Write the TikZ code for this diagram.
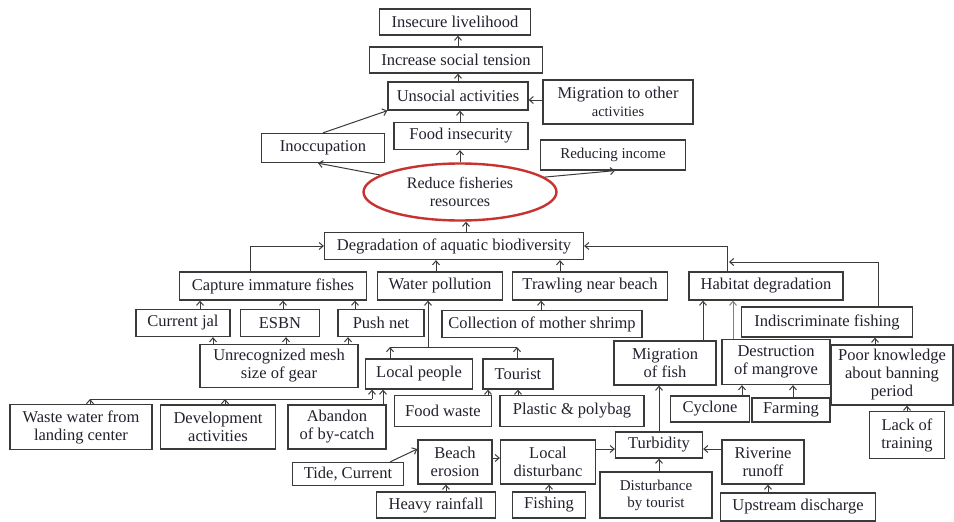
\documentclass[tikz,border=0pt]{standalone}
\usepackage{fontspec}
\setmainfont{Liberation Serif}
\usetikzlibrary{arrows.meta,shapes.geometric}
\definecolor{linec}{HTML}{3A3A3A}
\definecolor{txtc}{HTML}{22222E}
\definecolor{ellc}{HTML}{C8322F}
\begin{document}
\begin{tikzpicture}[x=1pt,y=-1pt,
 box/.style={draw=linec,line width=1.3pt,fill=white,align=center,inner sep=1pt,text=txtc,font=\fontsize{16.5}{18}\selectfont},
 arr/.style={draw=linec,line width=1pt,-{Straight Barb[length=4pt,width=7pt]}},
 ln/.style={draw=linec,line width=1pt}]
\useasboundingbox[fill=white] (0,0) rectangle (954,522);
% top chain
\node[box,minimum width=151pt,minimum height=26pt] (il) at (455,22) {Insecure livelihood};
\node[box,minimum width=173pt,minimum height=26pt] (ist) at (456,60) {Increase social tension};
\node[box,minimum width=140pt,minimum height=28pt] (ua) at (458,96) {Unsocial activities};
\node[box,minimum width=150pt,minimum height=44pt] (mo) at (618,102) {Migration to other\\{\fontsize{14.5}{15}\selectfont activities}};
\node[box,minimum width=134pt,minimum height=27pt] (fi) at (461,136) {Food insecurity};
\node[box,minimum width=123pt,minimum height=29pt] (ino) at (323,148) {Inoccupation};
\node[box,minimum width=145pt,minimum height=30pt,font=\fontsize{15}{16}\selectfont] (ri) at (613,155) {Reducing income};
\node[ellipse,draw=ellc,line width=2.4pt,fill=white,text=txtc,align=center,inner sep=0pt,minimum width=193pt,minimum height=57pt,font=\fontsize{16}{18}\selectfont] (rf) at (460,192) {Reduce fisheries\\resources};
\node[box,minimum width=259pt,minimum height=27pt] (da) at (454,246) {Degradation of aquatic biodiversity};
% second level
\node[box,minimum width=187pt,minimum height=28pt] (ci) at (273,286) {Capture immature fishes};
\node[box,minimum width=125pt,minimum height=28pt] (wp) at (440,286) {Water pollution};
\node[box,minimum width=155pt,minimum height=28pt] (tn) at (590,286) {Trawling near beach};
\node[box,minimum width=154pt,minimum height=28pt] (hd) at (766,286) {Habitat degradation};
% third level
\node[box,minimum width=94pt,minimum height=27pt] (cj) at (183,323) {Current jal};
\node[box,minimum width=79pt,minimum height=27pt] (es) at (280,323) {ESBN};
\node[box,minimum width=86pt,minimum height=27pt] (pn) at (381,323) {Push net};
\node[box,minimum width=200pt,minimum height=27pt] (cm) at (542,324) {Collection of mother shrimp};
\node[box,minimum width=171pt,minimum height=30pt] (if) at (827,322) {Indiscriminate fishing};
% fourth level
\node[box,minimum width=158pt,minimum height=43pt] (um) at (279,366) {Unrecognized mesh\\size of gear};
\node[box,minimum width=107pt,minimum height=30pt] (lp) at (419,374) {Local people};
\node[box,minimum width=70pt,minimum height=30pt] (to) at (518,374) {Tourist};
\node[box,minimum width=102pt,minimum height=44pt] (mf) at (665,363) {Migration\\of fish};
\node[box,minimum width=108pt,minimum height=45pt] (dm) at (776,362) {Destruction\\of mangrove};
\node[box,minimum width=122pt,minimum height=60pt] (pk) at (892,375) {Poor knowledge\\about banning\\period};
% fifth level
\node[box,minimum width=142pt,minimum height=45pt] (ww) at (81,427) {Waste water from\\landing center};
\node[box,minimum width=115pt,minimum height=44pt] (dv) at (218,427) {Development\\activities};
\node[box,minimum width=98pt,minimum height=44pt] (ab) at (337,427) {Abandon\\of by-catch};
\node[box,minimum width=97pt,minimum height=31pt] (fw) at (443,411) {Food waste};
\node[box,minimum width=144pt,minimum height=31pt] (pp) at (572,411) {Plastic \& polybag};
\node[box,minimum width=79pt,minimum height=26pt] (cy) at (710,409) {Cyclone};
\node[box,minimum width=78pt,minimum height=24pt] (fa) at (791,410) {Farming};
\node[box,minimum width=75pt,minimum height=47pt] (lt) at (907,435) {Lack of\\training};
% bottom
\node[box,minimum width=111pt,minimum height=23pt] (tc) at (348,474) {Tide, Current};
\node[box,minimum width=74pt,minimum height=44pt] (be) at (455,462) {Beach\\erosion};
\node[box,minimum width=95pt,minimum height=44pt] (ld) at (548,462) {Local\\disturbanc};
\node[box,minimum width=87pt,minimum height=26pt] (tu) at (659,445) {Turbidity};
\node[box,minimum width=82pt,minimum height=44pt] (rr) at (763,462) {Riverine\\runoff};
\node[box,minimum width=119pt,minimum height=26pt] (hr) at (436,505) {Heavy rainfall};
\node[box,minimum width=73pt,minimum height=26pt] (fs) at (549,505) {Fishing};
\node[box,minimum width=112pt,minimum height=46pt,font=\fontsize{15}{17}\selectfont] (dt) at (656,495) {Disturbance\\by tourist};
\node[box,minimum width=155pt,minimum height=28pt] (ud) at (798,507) {Upstream discharge};
% connectors top
\draw[arr] (ist.north -| 458,0) -- (il.south -| 458,0);
\draw[arr] (ua.north -| 458,0) -- (ist.south -| 458,0);
\draw[arr] (fi.north -| 460,0) -- (ua.south -| 460,0);
\draw[arr] (mo.west |- 0,100) -- (ua.east |- 0,100);
\draw[arr] (ino.north -| 323,0) -- (ua.south west);
\draw[arr] (rf.north -| 460,0) -- (fi.south -| 460,0);
\draw[arr] (rf.168) -- (ino.south -| 318,0);
\draw[arr] (rf.10) -- (ri.south -| 615,0);
\draw[arr] (da.north -| 466,0) -- (rf.south -| 466,0);
% second level to degradation
\draw[arr] (ci.north -| 250,0) |- (da.west);
\draw[arr] (wp.north -| 436,0) -- (da.south -| 436,0);
\draw[arr] (tn.north -| 560,0) -- (da.south -| 560,0);
\draw[arr] (hd.north -| 727,0) |- (da.east);
\draw[arr] (if.north -| 878,0) |- (729,262);
% third to second
\draw[arr] (cj.north -| 200,0) -- (ci.south -| 200,0);
\draw[arr] (es.north -| 283,0) -- (ci.south -| 283,0);
\draw[arr] (pn.north -| 355,0) -- (ci.south -| 355,0);
\draw[arr] (cm.north -| 541,0) -- (tn.south -| 541,0);
% water pollution bus
\coordinate (wb) at (428,347);
\draw[ln] (390,347) -- (517,347);
\draw[arr] (wb) -- (wp.south -| wb);
\draw[arr] (lp.north -| 390,0) -- (390,347);
\draw[arr] (to.north -| 517,0) -- (517,347);
% mesh to gears
\draw[arr] (um.north -| 213,0) -- (cj.south -| 213,0);
\draw[arr] (um.north -| 286,0) -- (es.south -| 286,0);
\draw[arr] (um.north -| 348,0) -- (pn.south -| 348,0);
% local people sources
\coordinate (lb) at (372,399);
\draw[ln] (90,399) -- (lb);
\draw[arr] (ww.north -| 90,0) -- (90,399);
\draw[arr] (dv.north -| 225,0) -- (225,399);
\draw[arr] (lb) -- (lp.south -| lb);
\draw[arr] (ab.north -| 383,0) -- (lp.south -| 383,0);
% tourist sources
\draw[arr] (fw.north -| 488,0) -- (to.south -| 488,0);
\draw[arr] (pp.north -| 518,0) -- (to.south -| 518,0);
% habitat
\draw[arr] (mf.north -| 703,0) -- (hd.south -| 703,0);
\draw[arr,draw=gray] (dm.north -| 733,0) -- (hd.south -| 733,0);
\draw[arr] (cy.north -| 742,0) -- (dm.south -| 742,0);
\draw[arr] (fa.north -| 793,0) -- (dm.south -| 793,0);
\draw[arr] (pk.north -| 875,0) -- (if.south -| 875,0);
\draw[arr] (lt.north -| 907,0) -- (pk.south -| 907,0);
% bottom
\draw[arr] (tu.north -| 659,0) -- (mf.south -| 659,0);
\coordinate (tcs) at ([xshift=-14pt]tc.north east);
\draw[arr] (tcs) -- (be.west |- 0,449);
\draw[arr] (hr.north -| 446,0) -- (be.south -| 446,0);
\draw[arr] (be.east |- 0,458) -- (ld.west |- 0,458);
\draw[arr] (fs.north -| 549,0) -- (ld.south -| 549,0);
\draw[arr] (ld.east |- 0,449) -- (tu.west |- 0,449);
\draw[arr] (dt.north -| 659,0) -- (tu.south -| 659,0);
\draw[arr] (rr.west |- 0,449) -- (tu.east |- 0,449);
\draw[arr] (ud.north -| 768,0) -- (rr.south -| 768,0);
\end{tikzpicture}
\end{document}
